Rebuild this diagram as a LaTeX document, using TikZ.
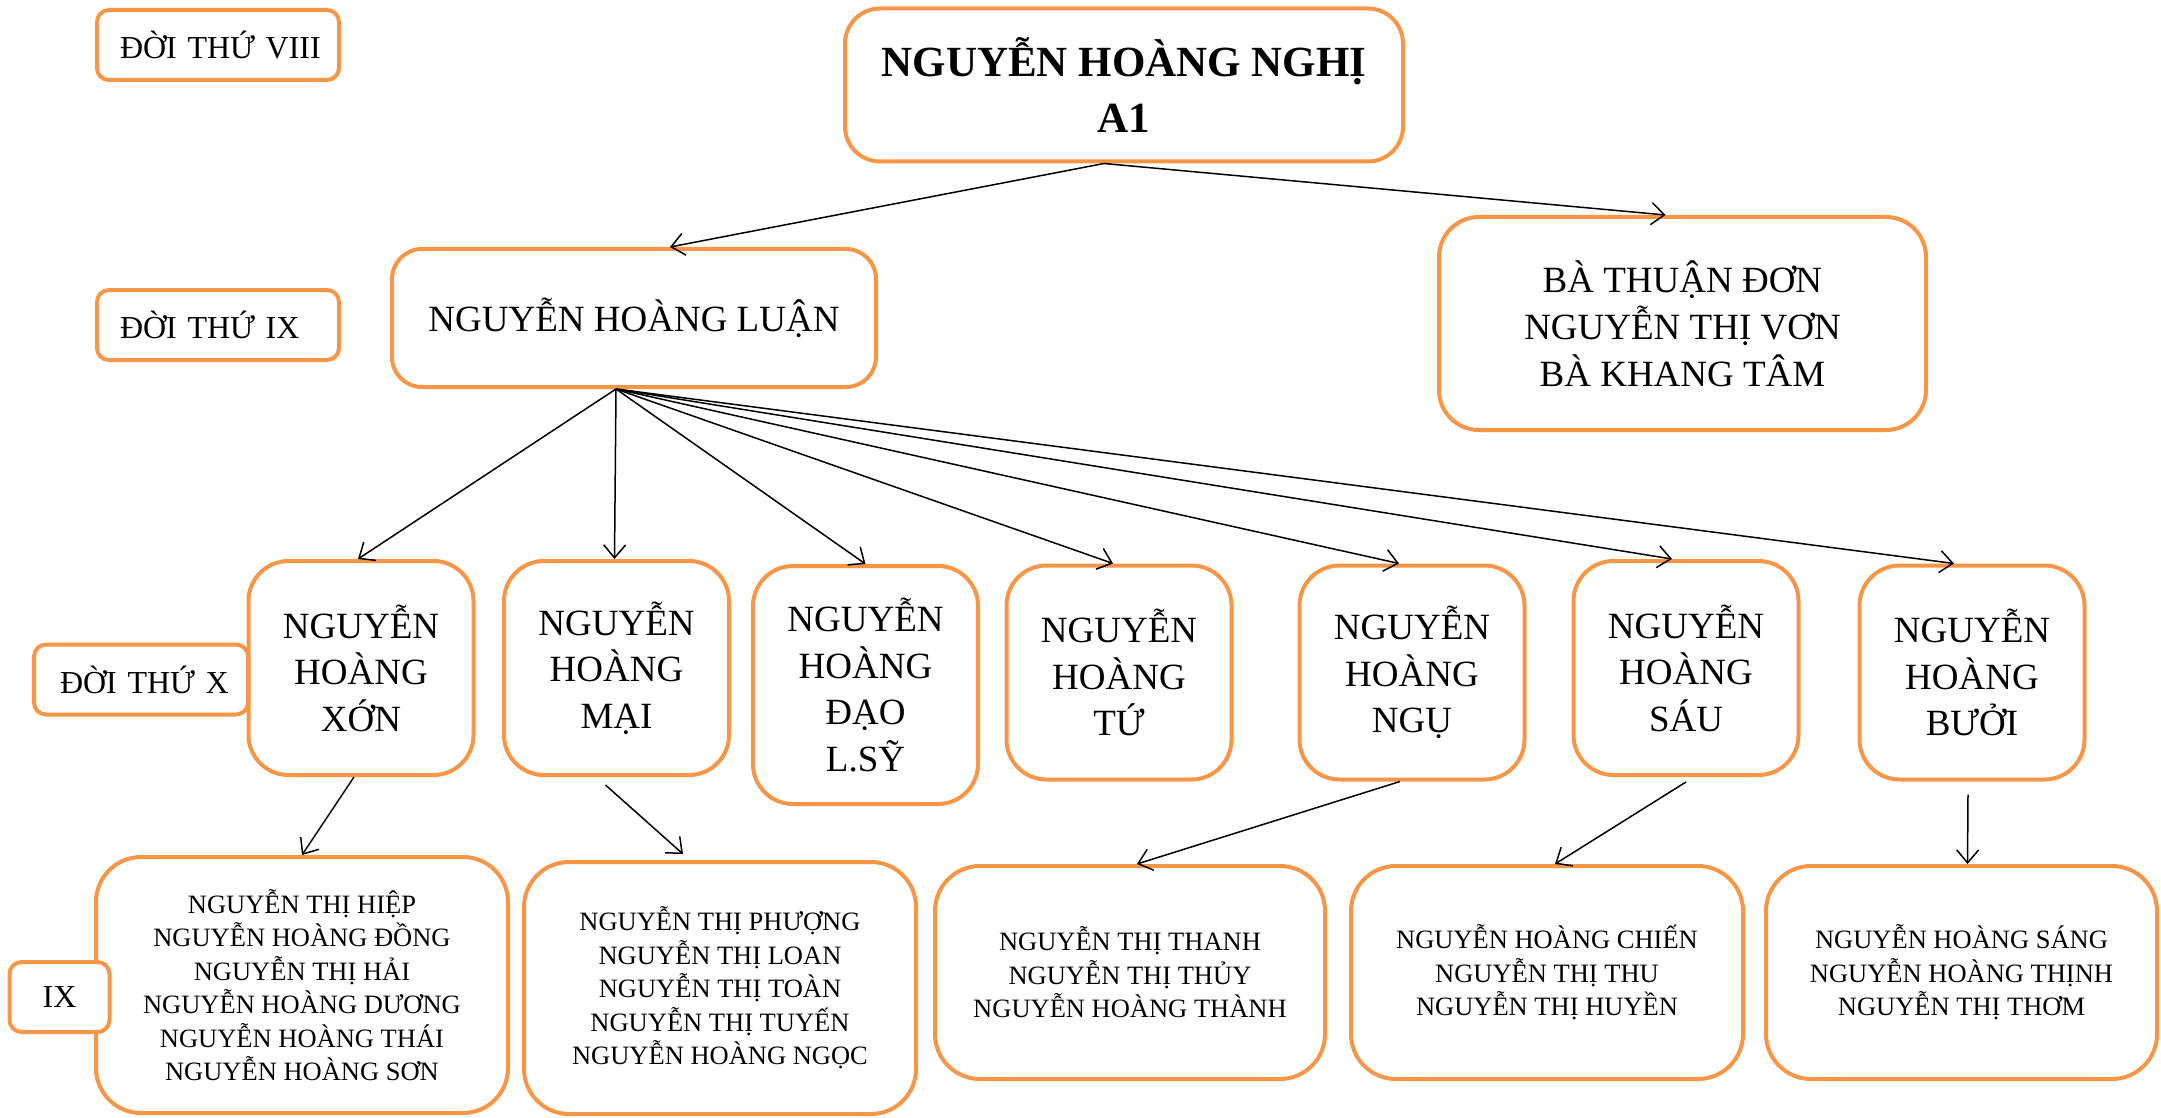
\documentclass[tikz,border=0pt]{standalone}
\usepackage{fontspec}
\setmainfont{Liberation Serif}
\usetikzlibrary{arrows.meta}
\definecolor{boxorange}{HTML}{F79646}
\begin{document}
\begin{tikzpicture}[x=1pt,y=-1pt,
  obox/.style={draw=boxorange, line width=4pt, fill=white, inner sep=0pt, align=center},
  lbl/.style={obox, rounded corners=12pt, minimum height=70pt, inner ysep=0pt,
    font=\fontsize{32}{38}\selectfont, align=left},
  kid/.style={obox, rounded corners=40pt, minimum width=225pt, minimum height=214pt,
    font=\fontsize{37}{46.5}\selectfont},
  grand/.style={obox, rounded corners=45pt, minimum height=213pt,
    font=\fontsize{26.5}{33.5}\selectfont},
  arr/.style={draw, line width=1.5pt, -{Straight Barb[length=13pt,width=22pt]}}
]
\useasboundingbox (0,0) rectangle (2161,1118);
\fill[white] (0,0) rectangle (2161,1118);

% generation labels
\node[lbl, text width=196pt, inner xsep=23pt] (l8) at (218,45) {\mbox{ĐỜI THỨ VIII}};
\node[lbl, text width=196pt, inner xsep=23pt] (l9) at (218,325) {\mbox{ĐỜI THỨ IX}};

% top
\node[obox, rounded corners=35pt, minimum width=558pt, minimum height=153pt,
  font=\bfseries\fontsize{43}{56}\selectfont] (top) at (1124,85) {NGUYỄN HOÀNG NGHỊ\\A1};

% generation IX
\node[obox, rounded corners=30pt, minimum width=484pt, minimum height=138pt,
  font=\fontsize{37}{46.5}\selectfont] (luan) at (634,318) {NGUYỄN HOÀNG LUẬN};
\node[obox, rounded corners=40pt, minimum width=487pt, minimum height=213pt,
  font=\fontsize{37}{47}\selectfont] (wives) at (1682.5,323.5) {BÀ THUẬN ĐƠN\\NGUYỄN THỊ VƠN\\BÀ KHANG TÂM};

% generation X
\node[kid] (xon) at (361,668) {NGUYỄN\\HOÀNG\\XỚN};
\node[lbl, text width=162pt, inner xsep=26pt] (l10) at (141,679.5) {\mbox{ĐỜI THỨ X}};
\node[kid] (mai) at (616.5,668) {NGUYỄN\\HOÀNG\\MẠI};
\node[kid, minimum height=238pt] (dao) at (865.5,685) {NGUYỄN\\HOÀNG\\ĐẠO\\L.SỸ};
\node[kid] (tu) at (1119,672.5) {NGUYỄN\\HOÀNG\\TỨ};
\node[kid] (ngu) at (1412,672.5) {NGUYỄN\\HOÀNG\\NGỤ};
\node[kid] (sau) at (1686,668) {NGUYỄN\\HOÀNG\\SÁU};
\node[kid] (buoi) at (1972,672.5) {NGUYỄN\\HOÀNG\\BƯỞI};

% generation XI
\node[grand, minimum width=412pt, minimum height=256pt] (c1) at (302,985)
  {NGUYỄN THỊ HIỆP\\NGUYỄN HOÀNG ĐỒNG\\NGUYỄN THỊ HẢI\\NGUYỄN HOÀNG DƯƠNG\\NGUYỄN HOÀNG THÁI\\NGUYỄN HOÀNG SƠN};
\node[lbl, text width=60pt, inner xsep=20pt, align=center] (l11) at (59.5,997) {IX};
\node[grand, minimum width=392pt, minimum height=252pt] (c2) at (720,988)
  {NGUYỄN THỊ PHƯỢNG\\NGUYỄN THỊ LOAN\\NGUYỄN THỊ TOÀN\\NGUYỄN THỊ TUYẾN\\NGUYỄN HOÀNG NGỌC};
\node[grand, minimum width=390pt] (c3) at (1130,972.5)
  {NGUYỄN THỊ THANH\\NGUYỄN THỊ THỦY\\NGUYỄN HOÀNG THÀNH};
\node[grand, minimum width=392pt] (c4) at (1547,972.5)
  {NGUYỄN HOÀNG CHIẾN\\NGUYỄN THỊ THU\\NGUYỄN THỊ HUYỀN};
\node[grand, minimum width=391pt] (c5) at (1961.5,972.5)
  {NGUYỄN HOÀNG SÁNG\\NGUYỄN HOÀNG THỊNH\\NGUYỄN THỊ THƠM};

% connectors
\draw[arr] ([xshift=-20pt]top.south) -- ([xshift=36pt]luan.north);
\draw[arr] ([xshift=-20pt]top.south) -- ([xshift=-17pt]wives.north);

\draw[arr] ([xshift=-18pt]luan.south) -- ([xshift=-3pt]xon.north);
\draw[arr] ([xshift=-18pt]luan.south) -- ([xshift=-2pt]mai.north);
\draw[arr] ([xshift=-18pt]luan.south) -- (dao.north);
\draw[arr] ([xshift=-18pt]luan.south) -- ([xshift=-6pt]tu.north);
\draw[arr] ([xshift=-18pt]luan.south) -- ([xshift=-13pt]ngu.north);
\draw[arr] ([xshift=-18pt]luan.south) -- ([xshift=-14pt]sau.north);
\draw[arr] ([xshift=-18pt]luan.south) -- ([xshift=-18pt]buoi.north);

\draw[arr] ([xshift=-7pt]xon.south) -- (c1.north);
\draw[arr] ([xshift=-11pt,yshift=-8pt]mai.south) -- ([xshift=-37pt,yshift=6pt]c2.north);
\draw[arr] ([xshift=-12pt]ngu.south) -- ([xshift=7pt]c3.north);
\draw[arr] ([yshift=-5pt]sau.south) -- ([xshift=8pt]c4.north);
\draw[arr] ([xshift=-4pt,yshift=-13pt]buoi.south) -- ([xshift=6pt]c5.north);
\end{tikzpicture}
\end{document}
